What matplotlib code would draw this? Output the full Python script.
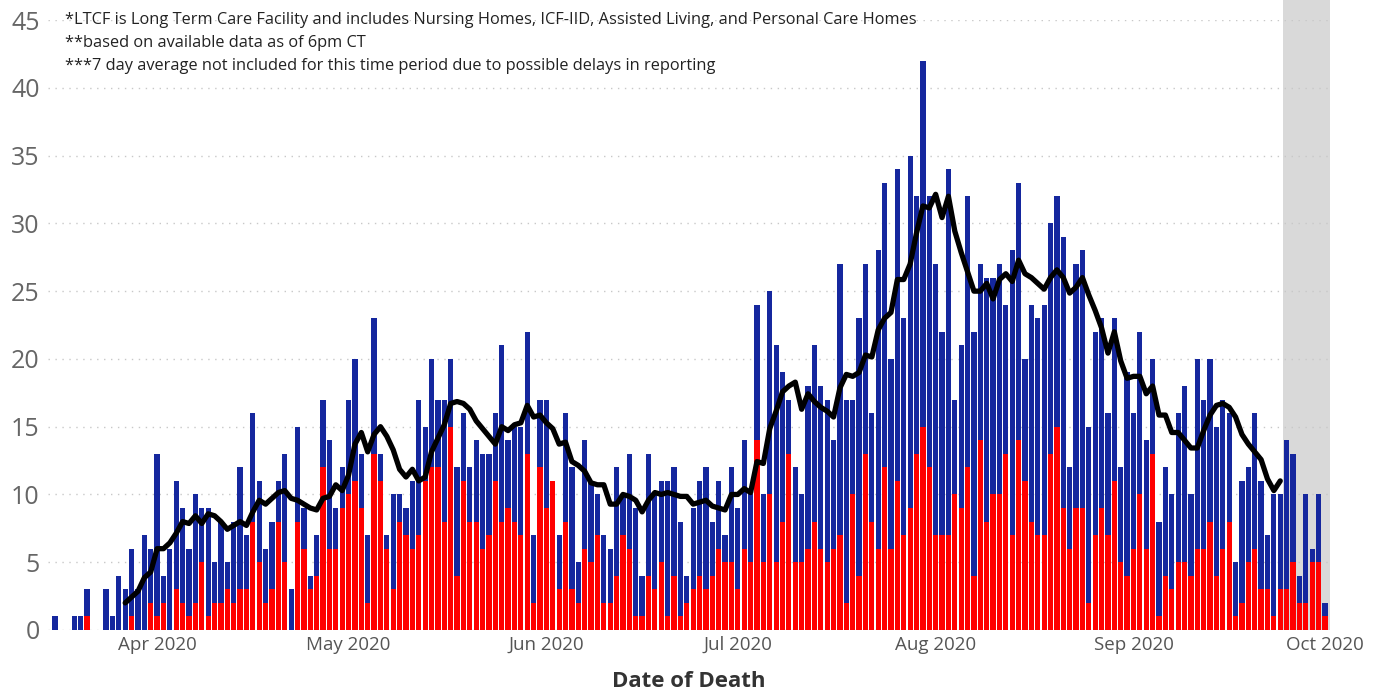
import numpy as np
import pandas as pd
import matplotlib
matplotlib.use("Agg")
import matplotlib.pyplot as plt
import matplotlib.dates as mdates
from matplotlib.patches import Rectangle

plt.rcParams["font.family"] = ["Open Sans", "DejaVu Sans"]

# daily deaths by date of death, starting 2020-03-16
start_date = "2020-03-16"

total_mar = [1, 0, 0, 1, 1, 3, 0, 0, 3, 1, 4, 3, 6, 3, 7, 6]
ltcf_mar = [0, 0, 0, 0, 0, 1, 0, 0, 0, 0, 0, 0, 1, 0, 0, 2]

total_apr = [13, 4, 6, 11, 9, 6, 10, 9, 9, 5, 8, 5, 8, 12, 7,
             16, 11, 6, 8, 11, 13, 3, 15, 9, 4, 7, 17, 14, 9, 12]
ltcf_apr = [1, 2, 0, 3, 2, 1, 2, 5, 1, 2, 2, 3, 2, 3, 3,
            8, 5, 2, 3, 8, 5, 0, 8, 6, 3, 4, 12, 6, 6, 9]

total_may = [17, 20, 13, 7, 23, 13, 7, 10, 10, 9, 11, 17, 15, 20, 17, 17,
             20, 12, 16, 12, 14, 13, 13, 16, 21, 14, 15, 15, 22, 7, 17]
ltcf_may = [10, 11, 9, 2, 13, 11, 6, 3, 8, 7, 6, 7, 11, 12, 12, 8,
            15, 4, 11, 8, 8, 6, 7, 11, 8, 9, 8, 7, 13, 2, 12]

total_jun = [17, 11, 7, 16, 12, 5, 14, 11, 10, 7, 6, 12, 10, 13, 9,
             4, 13, 10, 11, 11, 12, 8, 4, 9, 11, 12, 8, 11, 7, 12]
ltcf_jun = [9, 11, 3, 8, 3, 2, 6, 5, 7, 2, 2, 4, 7, 6, 1,
            1, 4, 3, 5, 1, 4, 1, 2, 3, 4, 3, 4, 6, 5, 5]

total_jul = [9, 14, 10, 24, 10, 25, 21, 19, 17, 12, 10, 18, 21, 18, 17, 14,
             27, 17, 17, 23, 27, 16, 28, 33, 20, 34, 23, 35, 32, 42, 32]
ltcf_jul = [3, 6, 5, 14, 5, 10, 5, 8, 13, 5, 5, 6, 8, 6, 5, 6,
            7, 2, 10, 4, 13, 8, 6, 12, 6, 11, 7, 9, 13, 15, 12]

total_aug = [27, 22, 34, 17, 21, 32, 22, 27, 26, 26, 27, 24, 28, 33, 20, 24,
             23, 24, 30, 32, 29, 12, 27, 28, 15, 22, 23, 16, 23, 12, 19]
ltcf_aug = [7, 7, 7, 10, 9, 12, 4, 14, 8, 10, 10, 13, 7, 14, 11, 8,
            7, 7, 13, 15, 9, 6, 9, 9, 2, 7, 9, 7, 11, 5, 4]

total_sep = [16, 22, 14, 20, 8, 12, 10, 16, 18, 10, 20, 17, 20, 15, 17,
             16, 5, 11, 12, 16, 11, 7, 10, 10, 14, 13, 4, 10, 6, 10]
ltcf_sep = [6, 10, 6, 13, 1, 4, 3, 5, 5, 4, 6, 6, 8, 4, 6,
            8, 1, 2, 5, 6, 3, 3, 1, 3, 3, 5, 2, 2, 5, 5]

total_oct = [2]
ltcf_oct = [1]

month_ticks = ["2020-04-01", "2020-05-01", "2020-06-01", "2020-07-01",
               "2020-08-01", "2020-09-01", "2020-10-01"]
tick_labels = ["Apr 2020", "May 2020", "Jun 2020", "Jul 2020",
               "Aug 2020", "Sep 2020", "Oct 2020"]

avg_first = "2020-03-27"
avg_last = "2020-09-24"

notes = ["*LTCF is Long Term Care Facility and includes Nursing Homes, ICF-IID, Assisted Living, and Personal Care Homes",
         "**based on available data as of 6pm CT",
         "***7 day average not included for this time period due to possible delays in reporting"]


total = np.array(total_mar + total_apr + total_may + total_jun + total_jul + total_aug + total_sep + total_oct)
ltcf = np.array(ltcf_mar + ltcf_apr + ltcf_may + ltcf_jun + ltcf_jul + ltcf_aug + ltcf_sep + ltcf_oct)
other = total - ltcf
dates = pd.date_range(start_date, periods=len(total), freq="D")

avg = pd.Series(total, index=dates).rolling(7).mean()
avg = avg[avg_first:avg_last]

fig = plt.figure(figsize=(13.83, 6.92), dpi=100)
ax = fig.add_axes([0.0347, 0.0896, 0.927, 0.8814])

x = mdates.date2num(dates)
ax.bar(x, ltcf, width=0.82, color="#ff0000", zorder=2)
ax.bar(x, other, width=0.82, bottom=ltcf, color="#15279e", zorder=2)

ax.plot(mdates.date2num(avg.index), avg.values, color="black", lw=3.8,
        solid_capstyle="round", solid_joinstyle="round", zorder=3)

x_left = x[0] - 1.1
x_right = x[-1] + 0.8
ax.set_xlim(x_left, x_right)
ax.set_ylim(0, 45)

# grey band for the last week, running up to the top of the figure
shade_start = mdates.date2num(pd.Timestamp(avg_last)) + 0.5
fx0 = ax.transData.transform((shade_start, 0))
fx1 = ax.transData.transform((x_right, 0))
inv = fig.transFigure.inverted()
p0 = inv.transform(fx0)
p1 = inv.transform(fx1)
ax.patch.set_alpha(0)
fig.patches.append(Rectangle((p0[0], p0[1]), p1[0] - p0[0], 1 - p0[1],
                             transform=fig.transFigure, color="#d9d9d9", lw=0, zorder=-1))

ax.set_yticks(range(0, 46, 5))
ax.yaxis.grid(True, linestyle=(0, (1, 4)), color="#c8c8c8", lw=1, zorder=1)
ax.set_axisbelow(True)
ax.set_xticks(mdates.date2num(pd.to_datetime(month_ticks)))
ax.set_xticklabels(tick_labels)
ax.tick_params(length=0)
ax.tick_params(axis="y", labelsize=18, labelcolor="#666666", pad=6)
ax.tick_params(axis="x", labelsize=13.5, labelcolor="#555555", pad=4)
for s in ax.spines.values():
    s.set_visible(False)

ax.set_xlabel("Date of Death", fontsize=16, fontweight="bold", color="#333333", labelpad=12.5)

for i, line in enumerate(notes):
    fig.text(65 / 1383, 1 - (20 + 23 * i) / 692, line, fontsize=11.8,
             color="#222222", va="center", ha="left", zorder=5)

fig.savefig("out.png", dpi=100)
